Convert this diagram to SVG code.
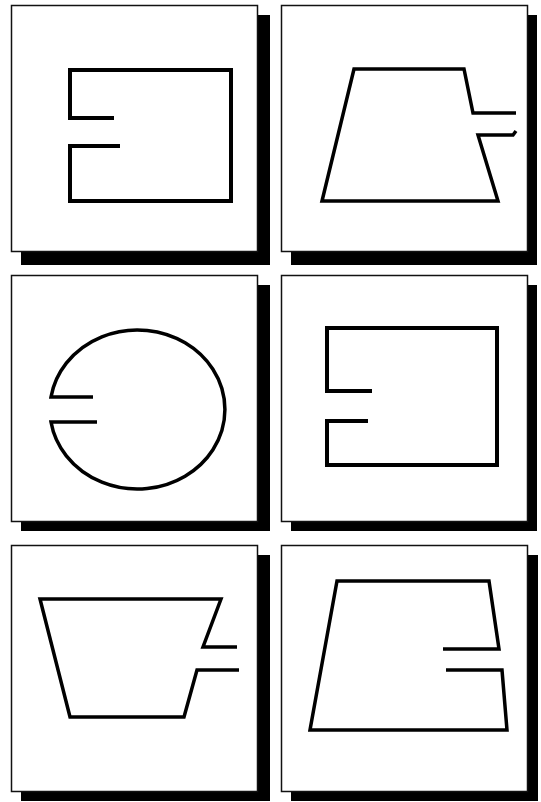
<svg xmlns="http://www.w3.org/2000/svg" width="541" height="802" viewBox="0 0 541 802">
<style>
.bg{fill:#fff}
.shadow{fill:#000}
.panel{fill:#fff;stroke:#111;stroke-width:1.5}
.shape{fill:none;stroke:#000;stroke-width:4;stroke-linejoin:miter;stroke-linecap:butt}
.thin{stroke-width:3.5}
</style>
<rect class="bg" x="0" y="0" width="541" height="802"/>
<g id="panel1">
<rect class="shadow" x="21" y="15" width="249" height="250"/>
<rect class="panel" x="11.5" y="5.5" width="246" height="246"/>
<path class="shape" d="M114,118 H70 V70 H231 V201 H70 V146 H120"/>
</g>
<g id="panel2">
<rect class="shadow" x="291" y="15" width="246" height="250"/>
<rect class="panel" x="281.5" y="5.5" width="246" height="246"/>
<path class="shape thin" d="M516,113 H473 L464,69 H354 L322,201 H498 L478,135 H513 L516,131"/>
</g>
<g id="panel3">
<rect class="shadow" x="21" y="285" width="249" height="246"/>
<rect class="panel" x="11.5" y="275.5" width="246" height="246"/>
<path class="shape thin" d="M93,397 H51 A87.5 79.5 0 1 1 51,422 H97"/>
</g>
<g id="panel4">
<rect class="shadow" x="291" y="285" width="246" height="246"/>
<rect class="panel" x="281.5" y="275.5" width="246" height="246"/>
<path class="shape" d="M372,391 H327 V328 H497 V465 H327 V421 H368"/>
</g>
<g id="panel5">
<rect class="shadow" x="21" y="555" width="249" height="246"/>
<rect class="panel" x="11.5" y="545.5" width="246" height="246"/>
<path class="shape thin" d="M237,647 H203 L221,599 H40 L70,717 H184 L197,670 H239"/>
</g>
<g id="panel6">
<rect class="shadow" x="291" y="555" width="247" height="246"/>
<rect class="panel" x="281.5" y="545.5" width="246" height="246"/>
<path class="shape thin" d="M443,649 H499 L489,581 H337 L310,730 H507 L502,670 H446"/>
</g>
<g id="connectors"/>
</svg>
